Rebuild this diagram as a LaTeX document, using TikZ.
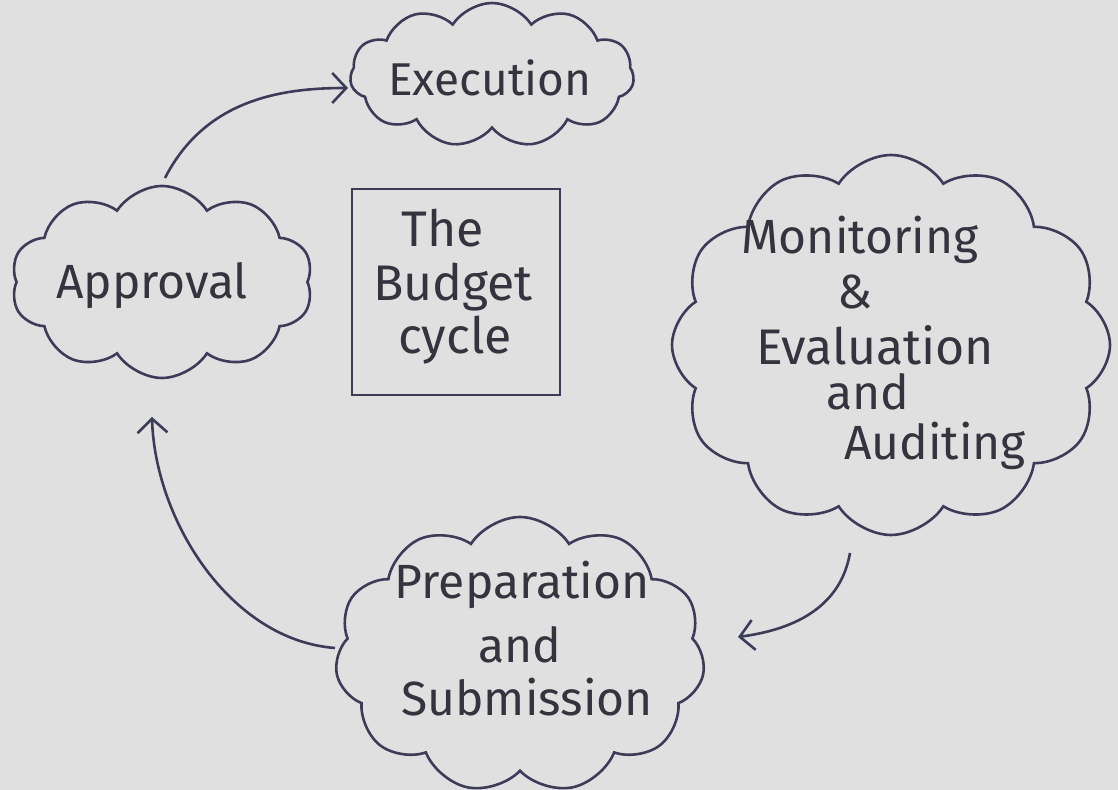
\documentclass[tikz,border=0pt]{standalone}
\usepackage{fontspec}
\setmainfont{Fira Sans}
\usetikzlibrary{shapes.symbols,arrows.meta}
\definecolor{paper}{HTML}{E0E0E0}
\definecolor{ink}{HTML}{3C3C58}
\definecolor{pencil}{HTML}{34343F}
\tikzset{
  bubble/.style={cloud, draw=ink, line width=1.3pt, cloud puffs=#1, cloud puff arc=115, inner sep=0pt},
  label/.style={text=pencil, font=\fontsize{#1}{26}\selectfont, inner sep=0pt, anchor=center},
  label/.default=24,
  flow/.style={draw=ink, line width=1.3pt, -{Straight Barb[length=7pt,width=15pt,line width=1.3pt]}},
}
\begin{document}
\begin{tikzpicture}[x=0.5pt,y=-0.5pt]
  \fill[paper] (0,0) rectangle (1118,790);
  \useasboundingbox (0,0) rectangle (1118,790);

  % the four stages, drawn as clouds (sizes in pt, half the grid units)
  \node[bubble=11, minimum width=142pt, minimum height=72pt, aspect=2.1] (exec) at (492,75) {};
  \node[bubble=10, minimum width=151pt, minimum height=96pt, aspect=1.6] (appr) at (162,282) {};
  \node[bubble=12, minimum width=219pt, minimum height=190pt, aspect=1.15] (moni) at (891,345) {};
  \node[bubble=11, minimum width=185pt, minimum height=138pt, aspect=1.4] (prep) at (520,655) {};

  % centre box
  \node[draw=ink, line width=1.2pt, minimum width=104pt, minimum height=103pt, inner sep=0pt] (box) at (456,292) {};

  % labels
  \node[label=23] (tExec) at (490,78) {Execution};
  \node[label=24] (tAppr) at (152,286) {Approval};
  \node[label=25] (tThe) at (443,228) {The};
  \node[label=25] (tBud) at (453,287) {Budget};
  \node[label=25] (tCyc) at (455,340) {cycle};
  \node[label=24] (tMon) at (860,240) {Monitoring};
  \node[label=24] (tAmp) at (855,292) {\&};
  \node[label=25] (tEva) at (875,345) {Evaluation};
  \node[label=24] (tAnd) at (868,392) {and};
  \node[label=24] (tAud) at (935,446) {Auditing};
  \node[label=24] (tPre) at (522,585) {Preparation};
  \node[label=24] (tAnd2) at (520,645) {and};
  \node[label=24] (tSub) at (527,697) {Submission};

  % cycle arrows
  \coordinate (a1) at (165,178);
  \coordinate (b1) at (348,88);
  \draw[flow] (a1) .. controls (205,100) and (280,88) .. (b1);
  \coordinate (a2) at (850,553);
  \coordinate (b2) at (738,637);
  \draw[flow] (a2) .. controls (840,610) and (790,630) .. (b2);
  \coordinate (a3) at (335,648);
  \coordinate (b3) at (152,417);
  \draw[flow] (a3) .. controls (230,640) and (155,520) .. (b3);
\end{tikzpicture}
\end{document}
